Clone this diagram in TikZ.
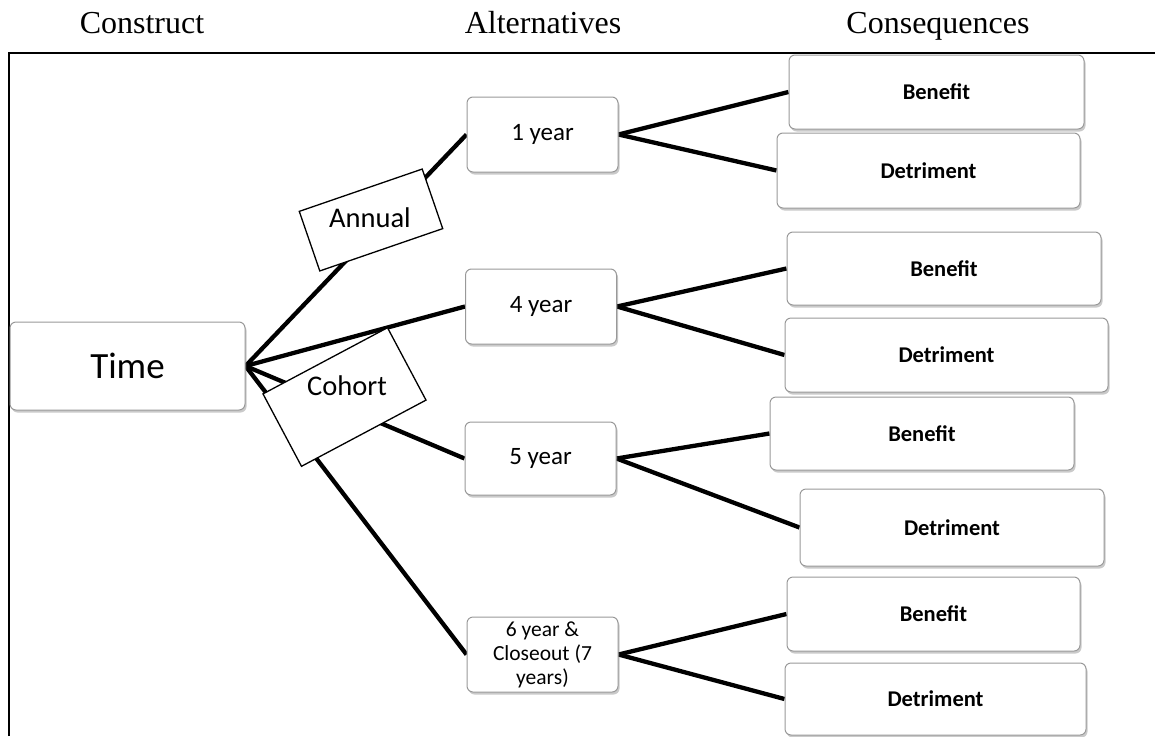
\documentclass[tikz,border=0pt]{standalone}
\usepackage{fontspec}
\setmainfont{Carlito}
\newfontfamily\headfont{Liberation Serif}
\usetikzlibrary{shadows,backgrounds}

\begin{document}
\begin{tikzpicture}[x=1pt,y=-1pt,
  card/.style={draw=black!40, line width=1pt, fill=white, rounded corners=6pt,
    drop shadow={shadow xshift=1.5pt, shadow yshift=-2.5pt, opacity=0.35, fill=black!60},
    inner sep=0pt, align=center},
  tag/.style={draw=black, line width=1.3pt, fill=white, inner sep=0pt},
  link/.style={line width=4.3pt},
  head/.style={font=\headfont\fontsize{32}{36}\selectfont, anchor=base},
  alt/.style={card, minimum width=151pt, minimum height=75pt, font=\fontsize{25}{27}\selectfont},
  cons/.style={card, minimum height=74pt, font=\bfseries\fontsize{22.5}{25}\selectfont}]
\useasboundingbox (0,0) rectangle (1155,736);

% column headings
\node[head] (hconstruct) at (142,33) {Construct};
\node[head] (halt) at (543,33) {Alternatives};
\node[head] (hcons) at (938,33) {Consequences};

% open frame: left and top edges
\draw[line width=2pt] (9,736) -- (9,53) -- (1155,53);

% construct
\node[card, minimum width=235pt, minimum height=88pt, font=\fontsize{37}{40}\selectfont] (time) at (127.5,366) {Time};

% alternatives
\node[alt] (one)  at (542.5,134.5) {1 year};
\node[alt] (four) at (541,306.5) {4 year};
\node[alt, minimum height=73pt] (five) at (540.5,458.5) {5 year};
\node[alt, font=\fontsize{21.5}{24}\selectfont] (six) at (542.5,654.5) {6 year \&\\Closeout (7\\years)};

% consequences
\node[cons, minimum width=295pt] (b1) at (936.5,92) {Benefit};
\node[cons, minimum width=303pt, minimum height=75pt] (d1) at (928.5,170.5) {Detriment};
\node[cons, minimum width=314pt, minimum height=73pt] (b2) at (944,268.5) {Benefit};
\node[cons, minimum width=323pt] (d2) at (946.5,355) {Detriment};
\node[cons, minimum width=304pt, minimum height=73pt] (b3) at (922,433.5) {Benefit};
\node[cons, minimum width=304pt, minimum height=77pt] (d3) at (952,527.5) {Detriment};
\node[cons, minimum width=293pt] (b4) at (933.5,614) {Benefit};
\node[cons, minimum width=301pt, minimum height=72pt] (d4) at (935.5,699) {Detriment};

% branches
\begin{scope}[on background layer]
  \draw[link] (time.east) -- (one.west);
  \draw[link] (time.east) -- (four.west);
  \draw[link] (time.east) -- (five.west);
  \draw[link] (time.east) -- (six.west);
  \foreach \a/\b/\d in {one/b1/d1, four/b2/d2, five/b3/d3, six/b4/d4}{
    \draw[link] (\a.east) -- (\b.west);
    \draw[link] (\a.east) -- (\d.west);
  }
\end{scope}

% branch labels
\node[tag, rotate=19, minimum width=130pt, minimum height=63pt] (annualbox) at (371,220) {};
\node[font=\fontsize{28.5}{30}\selectfont] (annual) at (370,218) {Annual};
\node[tag, rotate=28, minimum width=141pt, minimum height=82pt] (cohortbox) at (344.5,397) {};
\node[font=\fontsize{28.5}{30}\selectfont] (cohort) at (347,386) {Cohort};
\end{tikzpicture}
\end{document}
